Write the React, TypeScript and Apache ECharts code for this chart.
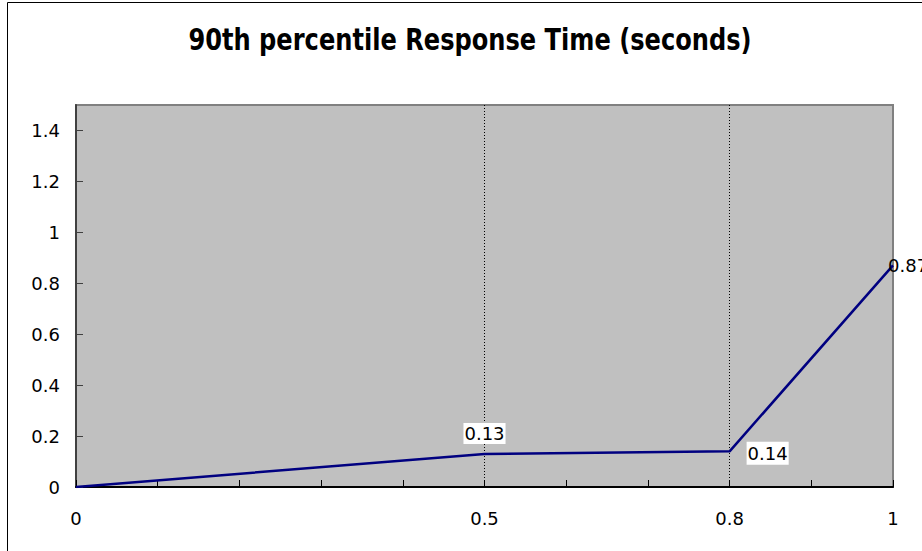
import React, { useEffect, useRef } from "react";
import * as echarts from "echarts";

const xValues = [0, 0.5, 0.8, 1];
const responseTimes = [0, 0.13, 0.14, 0.87];
const xLabelValues = [0, 0.5, 0.8, 1];
const markerXs = [0.5, 0.8];
const titleText = "90th percentile Response Time (seconds)";

const FONT = "DejaVu Sans";
const TITLE_FONT = "DejaVu Sans Condensed";

export default function App() {
  const ref = useRef<HTMLDivElement>(null);
  useEffect(() => {
    if (!ref.current) return;
    const chart = echarts.init(ref.current, undefined, { renderer: "svg" });
    const labelStyles = [
      { show: false },
      { show: true, position: "top", distance: 10, backgroundColor: "#ffffff", padding: [2, 1, 1, 1] },
      { show: true, position: "right", offset: [12, 2], backgroundColor: "#ffffff", padding: [3, 1, 2, 1] },
      { show: true, position: "right", distance: -5 },
    ];
    const data = xValues.map((x, i) => ({
      value: [x, responseTimes[i]],
      label: labelStyles[i],
    }));
    chart.setOption({
      animation: false,
      backgroundColor: "#ffffff",
      graphic: [
        {
          type: "rect",
          shape: { x: 7.5, y: 2.5, width: 1000, height: 700 },
          style: { fill: "none", stroke: "#000000", lineWidth: 1 },
          silent: true,
          z: 0,
        },
        {
          type: "text",
          x: 470,
          y: 39,
          scaleX: 0.865,
          style: {
            text: titleText,
            fontFamily: TITLE_FONT,
            fontSize: 31,
            fontWeight: "bold",
            fill: "#000000",
            align: "center",
            verticalAlign: "middle",
          },
          silent: true,
          z: 5,
        },
      ],
      grid: {
        left: 76,
        top: 105,
        right: 29,
        bottom: 64,
        show: true,
        backgroundColor: "#c0c0c0",
        borderColor: "#808080",
        borderWidth: 2,
      },
      xAxis: {
        type: "value",
        min: 0,
        max: 1,
        interval: 0.1,
        axisLine: { show: true, lineStyle: { color: "#000000", width: 2 } },
        axisTick: { show: true, inside: true, length: 7, lineStyle: { color: "#000000", width: 1 } },
        splitLine: { show: false },
        axisLabel: {
          margin: 22,
          fontFamily: FONT,
          fontSize: 18,
          color: "#000000",
          formatter: (v: number) => {
            const hit = xLabelValues.find((t) => Math.abs(t - v) < 1e-6);
            return hit === undefined ? "" : String(hit);
          },
        },
      },
      yAxis: {
        type: "value",
        min: 0,
        max: 1.5,
        interval: 0.2,
        axisLine: { show: true, lineStyle: { color: "#404040", width: 2 } },
        axisTick: { show: true, inside: true, length: 7, lineStyle: { color: "#404040", width: 1 } },
        splitLine: { show: false },
        axisLabel: {
          margin: 16,
          fontFamily: FONT,
          fontSize: 18,
          color: "#000000",
          showMaxLabel: false,
          formatter: (v: number) => (Math.abs(v - 1.5) < 1e-6 ? "" : String(Math.round(v * 10) / 10)),
        },
      },
      series: [
        {
          type: "line",
          data,
          showSymbol: true,
          symbol: "circle",
          symbolSize: 0,
          lineStyle: { color: "#000080", width: 2.5 },
          itemStyle: { color: "#000080" },
          label: {
            fontFamily: FONT,
            fontSize: 18,
            color: "#000000",
            formatter: (p: any) => String(p.value[1]),
          },
          markLine: {
            silent: true,
            symbol: "none",
            label: { show: false },
            lineStyle: { color: "#000000", type: [1, 2], width: 1 },
            data: markerXs.map((x) => ({ xAxis: x })),
            z: 1,
          },
          z: 3,
        },
      ],
    });
    return () => chart.dispose();
  }, []);
  return (
    <div
      ref={ref}
      style={{ position: "fixed", left: 0, top: 0, width: 922, height: 551 }}
    />
  );
}
